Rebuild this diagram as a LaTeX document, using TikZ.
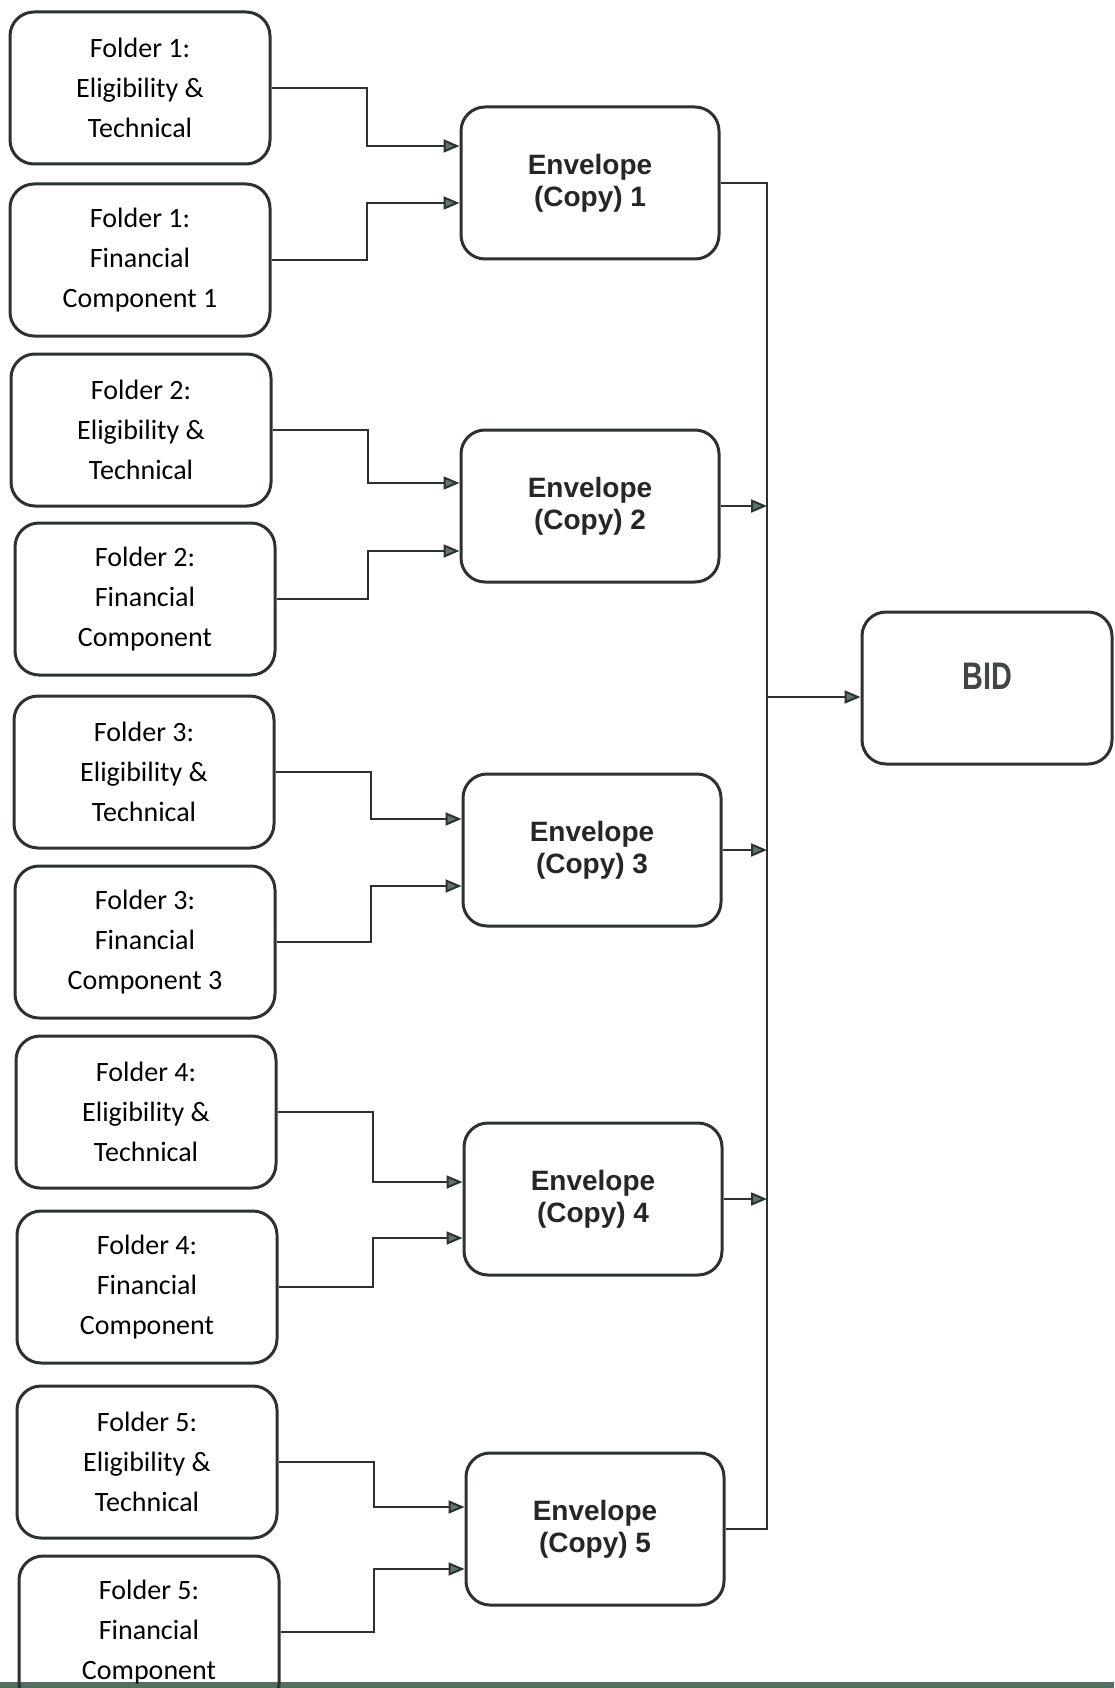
\documentclass[tikz,border=0pt]{standalone}
\usepackage{fontspec}
\usepackage{tikz}
\usetikzlibrary{arrows.meta,calc}
\newfontfamily\calibrifam{Carlito}
\newfontfamily\arialfam{Liberation Sans}
\definecolor{boxline}{RGB}{45,50,48}
\definecolor{tipfill}{RGB}{95,118,106}
\definecolor{scanline}{RGB}{82,112,94}
\tikzset{
  folderbox/.style={draw=boxline, line width=3pt, rounded corners=24pt, minimum width=260pt, minimum height=152pt, inner sep=0pt, align=center, font={\calibrifam\fontsize{28}{40}\selectfont}},
  envbox/.style={draw=boxline, line width=3pt, rounded corners=24pt, minimum width=258pt, minimum height=152pt, inner sep=0pt, align=center, text=black!85, font={\arialfam\bfseries\fontsize{28}{32}\selectfont}},
  bidbox/.style={envbox, minimum width=250pt, text=boxline!90, font={\arialfam\bfseries\fontsize{32}{36}\selectfont}},
  link/.style={draw=boxline, line width=2pt},
  linkarr/.style={link, -{Triangle[length=16pt,width=13pt,fill=tipfill]}},
}
\begin{document}
\begin{tikzpicture}[x=1pt,y=1pt,yscale=-1]
\useasboundingbox (0,0) rectangle (1114,1688);

%Scan edge
\draw [scanline, line width=6pt] (0,1685) -- (1114,1685);

% Folder boxes
\node [folderbox] (f1e) at (140,88) {Folder 1:\\Eligibility \&\\Technical};
\node [folderbox] (f1f) at (140,260) {Folder 1:\\Financial\\Component 1};
\node [folderbox] (f2e) at (141,430) {Folder 2:\\Eligibility \&\\Technical};
\node [folderbox] (f2f) at (145,599) {Folder 2:\\Financial\\Component};
\node [folderbox] (f3e) at (144,772) {Folder 3:\\Eligibility \&\\Technical};
\node [folderbox] (f3f) at (145,942) {Folder 3:\\Financial\\Component 3};
\node [folderbox] (f4e) at (146,1112) {Folder 4:\\Eligibility \&\\Technical};
\node [folderbox] (f4f) at (147,1287) {Folder 4:\\Financial\\Component};
\node [folderbox] (f5e) at (147,1462) {Folder 5:\\Eligibility \&\\Technical};
\node [folderbox] (f5f) at (149,1632) {Folder 5:\\Financial\\Component};

% Envelope boxes
\node [envbox] (e1) at (590,183) {Envelope\\(Copy) 1};
\node [envbox] (e2) at (590,506) {Envelope\\(Copy) 2};
\node [envbox] (e3) at (592,850) {Envelope\\(Copy) 3};
\node [envbox] (e4) at (593,1199) {Envelope\\(Copy) 4};
\node [envbox] (e5) at (595,1529) {Envelope\\(Copy) 5};

% Bid box
\node [bidbox] (bid) at (987,688) {\raisebox{24pt}{\scalebox{0.9}[1.2]{BID}}};

%Folders to envelopes
\draw [linkarr] (f1e.east) -- ++(95,0) |- ($(e1.west)+(0,-37)$);
\draw [linkarr] (f1f.east) -- ++(95,0) |- ($(e1.west)+(0,20)$);
\draw [linkarr] (f2e.east) -- ++(95,0) |- ($(e2.west)+(0,-23)$);
\draw [linkarr] (f2f.east) -- ++(91,0) |- ($(e2.west)+(0,45)$);
\draw [linkarr] (f3e.east) -- ++(95,0) |- ($(e3.west)+(0,-31)$);
\draw [linkarr] (f3f.east) -- ++(94,0) |- ($(e3.west)+(0,36)$);
\draw [linkarr] (f4e.east) -- ++(95,0) |- ($(e4.west)+(0,-17)$);
\draw [linkarr] (f4f.east) -- ++(94,0) |- ($(e4.west)+(0,39)$);
\draw [linkarr] (f5e.east) -- ++(95,0) |- ($(e5.west)+(0,-22)$);
\draw [linkarr] (f5f.east) -- ++(93,0) |- ($(e5.west)+(0,40)$);

%Envelopes to bus
\coordinate (bus) at (767,0);
\draw [link] (e1.east) -| (bus |- e5.east) -- (e5.east);
\draw [linkarr] (e2.east) -- (bus |- e2.east);
\draw [linkarr] (e3.east) -- (bus |- e3.east);
\draw [linkarr] (e4.east) -- (bus |- e4.east);

%Bus to bid
\coordinate (bidin) at ($(bid.west)+(0,9)$);
\draw [linkarr] (bus |- bidin) -- (bidin);

\end{tikzpicture}
\end{document}
